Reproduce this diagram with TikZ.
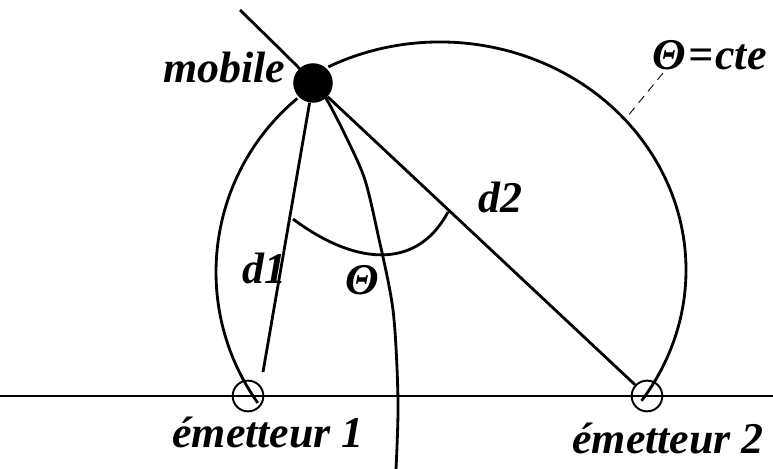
\documentclass[tikz,border=0pt]{standalone}
\usepackage{fontspec}
\setmainfont{Liberation Serif}
\begin{document}
\begin{tikzpicture}[x=0.02cm,y=0.02cm]

    \tikzset{
      lbl/.style={
        anchor=base west,
        inner sep=0pt,
        font=\bfseries\itshape\fontsize{25}{30}\selectfont,
      },
      emit/.style={
        draw,
        circle,
        line width=1.1pt,
        inner sep=0pt,
        minimum size=17.5pt,
      },
      mob/.style={
        fill,
        circle,
        inner sep=0pt,
        minimum size=22.5pt,
      },
      trait/.style={line width=1.6pt},
      leader/.style={line width=0.5pt, dash pattern=on 5pt off 3.5pt},
    }
    \useasboundingbox (0,0) rectangle (773,-469);
    \coordinate (axisL) at (0,-396);
    \coordinate (axisR) at (773,-396);
    \coordinate (d1end) at (263,-372);
    \coordinate (onarc) at (627,-117);
    \node[emit] (em1) at (248,-396) {};
    \node[emit] (em2) at (647,-396) {};
	\draw[trait] (axisL)--(axisR);
	\draw[trait] (442,-272) ++(129.8:226) arc[start angle=129.8, end angle=215.4, radius=226];
	\draw[trait] (440,-270) ++(117:246 and 228) arc[start angle=117, end angle=-35, x radius=246, y radius=228];
	\draw[trait] plot[smooth] coordinates {(240,-10) (298,-67) (313,-84) (327,-100) (350,-145) (365,-180) (377,-230) (393,-310) (398,-400) (396,-469)};
	\draw[trait] (293,-219) .. controls (353,-264) and (416,-272) .. (448,-212);
    \node[mob] (mobile) at (313,-83) {};
	\draw[trait] (mobile)--(d1end);
	\draw[trait] (mobile)--(em2);

\node[lbl] (lmob) at (163,-83) {mobile};
\node[lbl] (cte) at (652,-70) {Θ\kern1.5pt=\kern1pt cte};
\draw[leader] ([shift={(11,-3)}]cte.base west)--(onarc);
\node[lbl] (ld1) at (242,-283) {d1};
\node[lbl] (ld2) at (478,-213) {d2};
\node[lbl] (ltheta) at (345,-295) {Θ};
\node[lbl] (lem1) at (172,-447) {émetteur 1};
\node[lbl] (lem2) at (572,-453) {émetteur 2};


\end{tikzpicture}
\end{document}
